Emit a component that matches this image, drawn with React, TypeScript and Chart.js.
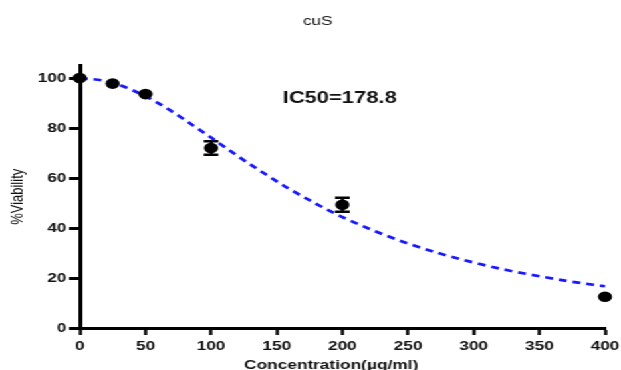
import React, { useEffect, useRef } from "react";
import { Chart, registerables } from "chart.js";

Chart.register(...registerables);

// ---- data ----
const concentrations = [0, 25, 50, 100, 200, 400];
const viability = [100, 97.8, 93.6, 72.0, 49.3, 12.5];
const viabilityError = [0, 0, 0, 2.7, 2.8, 0];

// fitted curve
const curveX = [0, 20, 40, 60, 80, 100, 120, 140, 160, 180, 200, 225, 250, 275, 300, 325, 350, 375, 400];
const curveY = [100, 98.8, 95.2, 89.9, 83.3, 76.2, 68.9, 62.0, 55.5, 49.7, 44.4, 38.7, 33.8, 29.7, 26.2, 23.2, 20.7, 18.5, 16.7];

const xTickValues = [0, 50, 100, 150, 200, 250, 300, 350, 400];
const yTickValues = [0, 20, 40, 60, 80, 100];

const chartTitle = "cuS";
const xTitle = "Concentration(µg/ml)";
const yTitle = "%Viability";
const ic50Label = "IC50=178.8";
const ic50LabelAt = { x: 154.5, y: 92 };

// the reference image is horizontally stretched
const INNER_W = 467;
const K = 621 / INNER_W;
const FONT = "'Liberation Sans', Arial, sans-serif";

const errorBarPlugin = {
  id: "errorBars",
  beforeDatasetsDraw(chart: any) {
    const { ctx, scales } = chart;
    const x = scales.x;
    const y = scales.y;
    ctx.save();
    ctx.strokeStyle = "#000";
    ctx.lineWidth = 2.4;
    concentrations.forEach((c, i) => {
      const e = viabilityError[i];
      if (!e) return;
      const px = x.getPixelForValue(c);
      const top = y.getPixelForValue(viability[i] + e);
      const bot = y.getPixelForValue(viability[i] - e);
      const hw = 5.5;
      ctx.beginPath();
      ctx.moveTo(px, top);
      ctx.lineTo(px, bot);
      ctx.moveTo(px - hw, top);
      ctx.lineTo(px + hw, top);
      ctx.moveTo(px - hw, bot);
      ctx.lineTo(px + hw, bot);
      ctx.stroke();
    });
    ctx.restore();
  },
};

const textPlugin = {
  id: "texts",
  afterDraw(chart: any) {
    const { ctx, scales } = chart;
    ctx.save();
    ctx.textBaseline = "middle";
    // IC50 annotation
    ctx.font = `bold 16.5px ${FONT}`;
    ctx.fillStyle = "#111";
    ctx.textAlign = "left";
    ctx.fillText(ic50Label, scales.x.getPixelForValue(ic50LabelAt.x), scales.y.getPixelForValue(ic50LabelAt.y));
    // chart title
    ctx.textAlign = "center";
    ctx.font = `13px ${FONT}`;
    ctx.fillText(chartTitle, 239, 21);
    // x axis title
    ctx.font = `bold 13px ${FONT}`;
    ctx.fillText(xTitle, 249, 365);
    ctx.restore();
  },
};

export default function App() {
  const canvasRef = useRef<HTMLCanvasElement | null>(null);

  useEffect(() => {
    if (!canvasRef.current) return;
    const chart = new Chart(canvasRef.current, {
      type: "scatter",
      data: {
        datasets: [
          {
            label: "data",
            data: concentrations.map((c, i) => ({ x: c, y: viability[i] })),
            pointRadius: 5.3,
            pointHoverRadius: 5.3,
            pointBackgroundColor: "#000",
            pointBorderColor: "#000",
            pointBorderWidth: 0,
            showLine: false,
            clip: false as any,
          },
          {
            label: "fit",
            data: curveX.map((c, i) => ({ x: c, y: curveY[i] })),
            showLine: true,
            pointRadius: 0,
            borderColor: "rgb(24,24,255)",
            borderWidth: 2.7,
            borderDash: [6, 4.5],
            cubicInterpolationMode: "monotone",
            fill: false,
            clip: false as any,
          },
        ],
      },
      options: {
        animation: false,
        responsive: true,
        maintainAspectRatio: false,
        layout: { padding: { left: 0, right: 12, top: 65.6, bottom: 0 } },
        plugins: {
          legend: { display: false },
          tooltip: { enabled: false },
          title: { display: false },
        },
        scales: {
          x: {
            type: "linear",
            min: 0,
            max: 400,
            afterBuildTicks: (scale: any) => {
              scale.ticks = xTickValues.map((v) => ({ value: v }));
            },
            afterFit: (scale: any) => {
              scale.height = 42;
              scale.paddingLeft = 0;
              scale.paddingRight = 0;
            },
            ticks: {
              color: "#111",
              font: { family: FONT, size: 13, weight: "bold" },
              padding: 4,
              maxRotation: 0,
            },
            grid: {
              display: true,
              drawOnChartArea: false,
              drawTicks: true,
              tickLength: 7,
              tickWidth: 2.4,
              tickColor: "#000",
            },
            border: { display: true, color: "#000", width: 3 },
            title: { display: false },
          },
          y: {
            type: "linear",
            min: 0,
            max: 105,
            afterBuildTicks: (scale: any) => {
              scale.ticks = yTickValues.map((v) => ({ value: v }));
            },
            afterFit: (scale: any) => {
              scale.width = 60;
            },
            ticks: {
              color: "#111",
              font: { family: FONT, size: 13, weight: "bold" },
              padding: 2,
            },
            grid: {
              display: true,
              drawOnChartArea: false,
              drawTicks: true,
              tickLength: 8,
              tickWidth: 3,
              tickColor: "#000",
            },
            border: { display: true, color: "#000", width: 3 },
            title: {
              display: true,
              text: yTitle,
              color: "#111",
              font: { family: FONT, size: 13, weight: "normal" },
              padding: { top: 6, bottom: 0 },
            },
          },
        },
      },
      plugins: [errorBarPlugin, textPlugin],
    } as any);
    return () => chart.destroy();
  }, []);

  return (
    <div
      style={{
        position: "absolute",
        left: 0,
        top: 0,
        width: INNER_W,
        height: 370,
        transform: `scaleX(${K})`,
        transformOrigin: "left top",
        background: "#fff",
      }}
    >
      <canvas ref={canvasRef} />
    </div>
  );
}
